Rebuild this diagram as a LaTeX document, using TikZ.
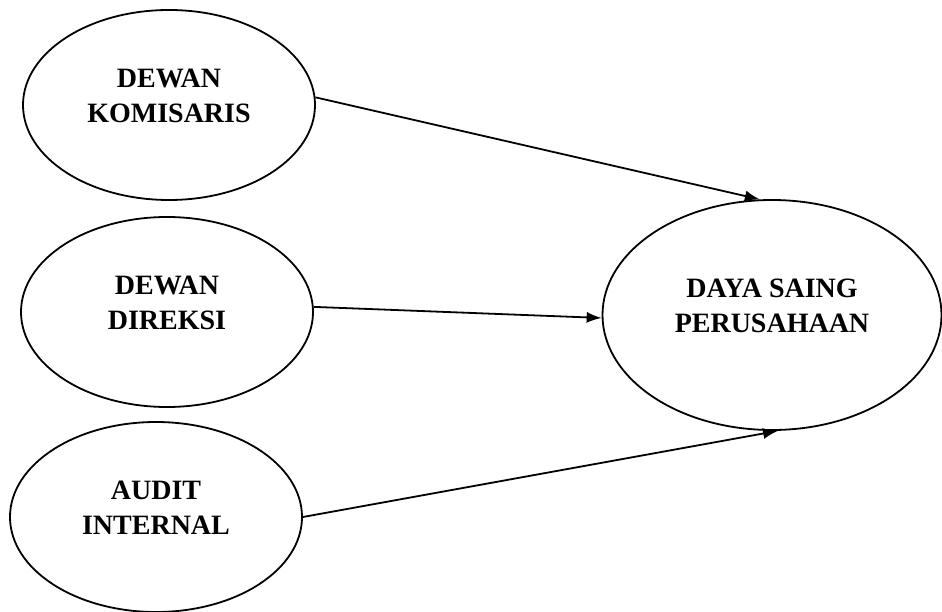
\documentclass[tikz,border=0pt]{standalone}
\usepackage{fontspec}
\setmainfont{Liberation Serif}
\usetikzlibrary{shapes.geometric}
\usetikzlibrary{arrows.meta}

\tikzset{
  var/.style={ellipse, draw, line width=1.8pt, inner sep=0pt,
    minimum width=292pt, minimum height=190pt, align=center,
    text depth=18pt, font=\fontsize{28}{35}\selectfont\bfseries},
  link/.style={line width=1.8pt, -{Latex[length=15pt,width=11pt]}}
}

\begin{document}
\begin{tikzpicture}[x=1pt, y=-1pt]
\useasboundingbox (0,0) rectangle (942,612);
% -- independent variables --
\node[var] (kom) at (169,105) {DEWAN\\KOMISARIS};
\node[var] (dir) at (167,312) {DEWAN\\DIREKSI};
\node[var] (aud) at (156,517) {AUDIT\\INTERNAL};
% -- dependent variable --
\node[var, minimum width=339pt, minimum height=230pt] (daya) at (772,315) {DAYA SAING\\PERUSAHAAN};
\draw[link] (kom.3) to (daya.96);
\draw[link] (dir.2) to (daya.181);
\draw[link] (aud.0) to (daya.273);
\end{tikzpicture}
\end{document}
